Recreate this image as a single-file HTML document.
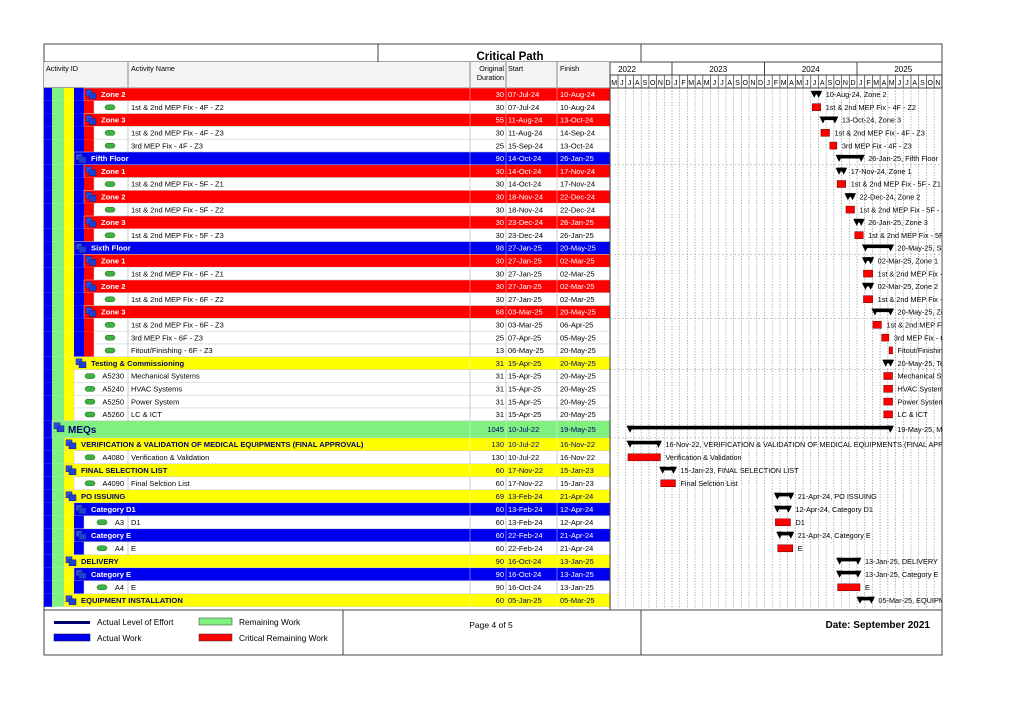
<!DOCTYPE html>
<html><head><meta charset="utf-8"><style>
body{margin:0;background:#fff;width:1024px;height:724px;overflow:hidden;font-family:"Liberation Sans",sans-serif}
svg{position:absolute;left:0;top:0}
</style></head><body>
<svg id="c" width="1024" height="724" xmlns="http://www.w3.org/2000/svg" font-family="Liberation Sans, sans-serif"></svg>
<script>
const rowTypes=["zone","task","zone","task","task","floor","zone","task","zone","task","zone","task","floor","zone","task","zone","task","zone","task","task","task","yel","tid","tid","tid","tid","meq","yel2","tid2","yel2","tid2","yel2","blue2","t3","blue2","t3","yel2","blue2","t3","yel2"];
const rowIds=["","","","","","","","","","","","","","","","","","","","","","","A5230","A5240","A5250","A5260","","","A4080","","A4090","","","A3","","A4","","","A4",""];
const rowNames=["Zone 2","1st & 2nd MEP Fix - 4F - Z2","Zone 3","1st & 2nd MEP Fix - 4F - Z3","3rd MEP Fix - 4F - Z3","Fifth Floor","Zone 1","1st & 2nd MEP Fix - 5F - Z1","Zone 2","1st & 2nd MEP Fix - 5F - Z2","Zone 3","1st & 2nd MEP Fix - 5F - Z3","Sixth Floor","Zone 1","1st & 2nd MEP Fix - 6F - Z1","Zone 2","1st & 2nd MEP Fix - 6F - Z2","Zone 3","1st & 2nd MEP Fix - 6F - Z3","3rd MEP Fix - 6F - Z3","Fitout/Finishing - 6F - Z3","Testing & Commissioning","Mechanical Systems","HVAC Systems","Power System","LC & ICT","MEQs","VERIFICATION & VALIDATION OF MEDICAL EQUIPMENTS (FINAL APPROVAL)","Verification & Validation","FINAL SELECTION LIST","Final Selction List","PO ISSUING","Category D1","D1","Category E","E","DELIVERY","Category E","E","EQUIPMENT INSTALLATION"];
const rowDur=[30,30,55,30,25,90,30,30,30,30,30,30,98,30,30,30,30,68,30,25,13,31,31,31,31,31,1045,130,130,60,60,69,60,60,60,60,90,90,90,60];
const rowStart=["07-Jul-24","07-Jul-24","11-Aug-24","11-Aug-24","15-Sep-24","14-Oct-24","14-Oct-24","14-Oct-24","18-Nov-24","18-Nov-24","23-Dec-24","23-Dec-24","27-Jan-25","27-Jan-25","27-Jan-25","27-Jan-25","27-Jan-25","03-Mar-25","03-Mar-25","07-Apr-25","06-May-25","15-Apr-25","15-Apr-25","15-Apr-25","15-Apr-25","15-Apr-25","10-Jul-22","10-Jul-22","10-Jul-22","17-Nov-22","17-Nov-22","13-Feb-24","13-Feb-24","13-Feb-24","22-Feb-24","22-Feb-24","16-Oct-24","16-Oct-24","16-Oct-24","05-Jan-25"];
const rowFinish=["10-Aug-24","10-Aug-24","13-Oct-24","14-Sep-24","13-Oct-24","26-Jan-25","17-Nov-24","17-Nov-24","22-Dec-24","22-Dec-24","26-Jan-25","26-Jan-25","20-May-25","02-Mar-25","02-Mar-25","02-Mar-25","02-Mar-25","20-May-25","06-Apr-25","05-May-25","20-May-25","20-May-25","20-May-25","20-May-25","20-May-25","20-May-25","19-May-25","16-Nov-22","16-Nov-22","15-Jan-23","15-Jan-23","21-Apr-24","12-Apr-24","12-Apr-24","21-Apr-24","21-Apr-24","13-Jan-25","13-Jan-25","13-Jan-25","05-Mar-25"];
const years=[2022,2023,2024,2025];
const monthLetters=["J","F","M","A","M","J","J","A","S","O","N","D"];

const S=document.getElementById('c');const NS="http://www.w3.org/2000/svg";
function el(t,a,p){const e=document.createElementNS(NS,t);for(const k in a)e.setAttribute(k,a[k]);(p||S).appendChild(e);return e;}
function tx(x,y,s,a,p){const e=el('text',Object.assign({x:x,y:y,'font-size':7.5,fill:'#000'},a),p);e.textContent=s;return e;}
const MON={Jan:0,Feb:1,Mar:2,Apr:3,May:4,Jun:5,Jul:6,Aug:7,Sep:8,Oct:9,Nov:10,Dec:11};
const X0=672,PY=92.5;
function xDate(s){const p=s.split('-');const d=+p[0],m=MON[p[1]],y=2000+ +p[2];const dim=new Date(y,m+1,0).getDate();return X0+(y-2023+(m+(d-1)/dim)/12)*PY;}
function xYM(y,m){return X0+(y-2023+m/12)*PY;}
function rowTop(i){return i<26?88+i*12.8:(i==26?420.8:437.8+(i-27)*13);}
function rowH(i){return i<26?12.8:(i==26?17:13);}
const BLUE="#0000f0",RED="#ff0000",YEL="#ffff00",GRN="#80f080",NAVY="#000070";

let r=el('rect',{x:44,y:44,width:898,height:611,fill:'none',stroke:'#444','stroke-width':1});

el('line',{x1:378,y1:44,x2:378,y2:62,stroke:'#444'});
el('line',{x1:641,y1:44,x2:641,y2:62,stroke:'#444'});
el('line',{x1:44,y1:62,x2:942,y2:62,stroke:'#444'});
let t=tx(510,60,'Critical Path',{'font-size':11.5,'font-weight':'bold','text-anchor':'middle'});

el('rect',{x:44,y:62,width:566,height:26,fill:'#f4f4f4'});
el('line',{x1:44,y1:88,x2:942,y2:88,stroke:'#444'});
const hdr=[['Activity ID',46,'start','col-header-activity-id'],['Activity Name',131,'start','col-header-activity-name'],['Start',508,'start','col-header-start'],['Finish',560,'start','col-header-finish']];
hdr.forEach(h=>{const e=tx(h[1],71,h[0],{'font-size':7.2,'text-anchor':h[2]});});
t=tx(504,71,'Original',{'font-size':7.2,'text-anchor':'end'});
tx(504,80,'Duration',{'font-size':7.2,'text-anchor':'end'});
[128,470,506,557,610].forEach(x=>el('line',{x1:x,y1:62,x2:x,y2:88,stroke:'#888'}));
el('line',{x1:610,y1:75,x2:942,y2:75,stroke:'#444'});
const gclip=el('clipPath',{id:'gc'});el('rect',{x:610,y:62,width:332,height:548},gclip);
const G=el('g',{'clip-path':'url(#gc)'});
years.forEach(y=>{const x=xYM(y,0);el('line',{x1:x,y1:62,x2:x,y2:75,stroke:'#444'},G);
 const e=tx(Math.max(x+PY/2,627),72,String(y),{'font-size':8,'text-anchor':'middle'},G);
 });
years.forEach(y=>{for(let m=0;m<12;m++){const x=xYM(y,m);
 el('line',{x1:x,y1:75,x2:x,y2:88,stroke:'#333','stroke-width':0.7},G);
 tx(x+3.8,85,monthLetters[m],{'font-size':7,'text-anchor':'middle'},G);
 el('line',{x1:x,y1:88,x2:x,y2:609,stroke:'#888','stroke-width':0.7,'stroke-dasharray':'1.2,1.6'},G);}});
[5,12,17,21,26].forEach(i=>el('line',{x1:610,y1:rowTop(i+1),x2:942,y2:rowTop(i+1),stroke:'#aaa','stroke-width':0.6,'stroke-dasharray':'2,2'},G));

const strips={zone:[BLUE,GRN,YEL,BLUE],task:[BLUE,GRN,YEL,BLUE,RED],floor:[BLUE,GRN,YEL],yel:[BLUE,GRN,YEL],tid:[BLUE,GRN,YEL],meq:[BLUE],yel2:[BLUE,GRN],tid2:[BLUE,GRN,YEL],blue2:[BLUE,GRN,YEL],t3:[BLUE,GRN,YEL,BLUE]};
const stripX=[44,52,64,74,84,94];
const bandColor={zone:RED,floor:BLUE,yel:YEL,meq:GRN,yel2:YEL,blue2:BLUE};
const textColor={zone:'#fff',floor:'#fff',yel:NAVY,meq:NAVY,yel2:NAVY,blue2:'#fff'};
function icon(x,y,p){el('rect',{x:x,y:y,width:6,height:6,fill:'#3050e0',stroke:'#102080','stroke-width':0.5},p);el('rect',{x:x+3,y:y+3,width:7,height:6,fill:'#2040d0',stroke:'#102080','stroke-width':0.5},p);}
function pill(x,y,p){el('rect',{x:x,y:y,width:10,height:5,rx:2.5,fill:'#40b040',stroke:'#207020','stroke-width':0.5},p);}
for(let i=0;i<rowTypes.length;i++){
 const ty=rowTypes[i],y=rowTop(i),h=rowH(i),cy=y+h/2+2.7;
 const g=el('g',{});
 
 
 const st=strips[ty];st.forEach((c,k)=>el('rect',{x:stripX[k],y:y,width:stripX[k+1]-stripX[k],height:h,fill:c},g));
 const bx=stripX[st.length];
 const band=bandColor[ty];
 el('rect',{x:bx,y:y,width:610-bx,height:h,fill:band||'#fff',stroke:'#ccc','stroke-width':0.5},g);
 const tc=textColor[ty]||'#000';
 if(band){
  const fs=ty=='meq'?10:7.6;
  icon(bx+2,y+2,g);
  tx(bx+(ty=='meq'?16:17),cy+(ty=='meq'?0.8:0),rowNames[i],{'font-size':fs,'font-weight':'bold',fill:tc},g);
 } else {
  el('line',{x1:128,y1:y,x2:128,y2:y+h,stroke:'#ccc'},g);
  pill(ty=='task'?105:(ty=='t3'?97:85),y+4,g);
  if(rowIds[i])tx(124,cy,rowIds[i],{'text-anchor':'end'},g);
  tx(131,cy,rowNames[i],{},g);
 }
 [470,506,557].forEach(x=>el('line',{x1:x,y1:y,x2:x,y2:y+h,stroke:band?'rgba(255,255,255,0.4)':'#ccc'},g));
 tx(504,cy,String(rowDur[i]),{'text-anchor':'end',fill:tc},g);
 tx(508,cy,rowStart[i],{fill:tc},g);
 tx(560,cy,rowFinish[i],{fill:tc},g);
 const x1=xDate(rowStart[i]),x2=xDate(rowFinish[i]);
 const bg=el('g',{},G);
 if(band){
  
  
  const by=y+h/2-3.5;
  el('rect',{x:x1,y:by,width:x2-x1,height:3.6,fill:'#000'},bg);
  el('polygon',{points:`${x1-1.5},${by} ${x1+5.5},${by} ${x1+2},${by+7}`,fill:'#000'},bg);
  el('polygon',{points:`${x2-5.5},${by} ${x2+1.5},${by} ${x2-2},${by+7}`,fill:'#000'},bg);
  tx(x2+5,cy,rowFinish[i]+', '+rowNames[i],{'font-size':7.3},bg);
 } else {
  
  
  el('rect',{x:x1,y:y+h/2-3.5,width:Math.max(x2-x1,2),height:7,fill:RED,stroke:'#600','stroke-width':0.5},bg);
  tx(x2+5,cy,rowNames[i],{'font-size':7.3},bg);
 }
}
el('line',{x1:610,y1:62,x2:610,y2:610,stroke:'#444'});
el('line',{x1:44,y1:610,x2:942,y2:610,stroke:'#444'});
el('line',{x1:343,y1:610,x2:343,y2:655,stroke:'#444'});
el('line',{x1:641,y1:610,x2:641,y2:655,stroke:'#444'});
const lg=el('g',{});
el('rect',{x:54,y:621,width:36,height:3,fill:NAVY},lg);tx(97,625,'Actual Level of Effort',{'font-size':8.3},lg);
el('rect',{x:54,y:634,width:36,height:7,fill:BLUE,stroke:'#003','stroke-width':0.5},lg);tx(97,641,'Actual Work',{'font-size':8.3},lg);
el('rect',{x:199,y:618,width:33,height:7,fill:GRN,stroke:'#333','stroke-width':0.5},lg);tx(239,625,'Remaining Work',{'font-size':8.3},lg);
el('rect',{x:199,y:634,width:33,height:7,fill:RED,stroke:'#333','stroke-width':0.5},lg);tx(239,641,'Critical Remaining Work',{'font-size':8.3},lg);
t=tx(491,628,'Page 4 of 5',{'font-size':8.5,'text-anchor':'middle'});
t=tx(930,628,'Date: September 2021',{'font-size':10,'font-weight':'bold','text-anchor':'end'});
</script>
</body></html>
